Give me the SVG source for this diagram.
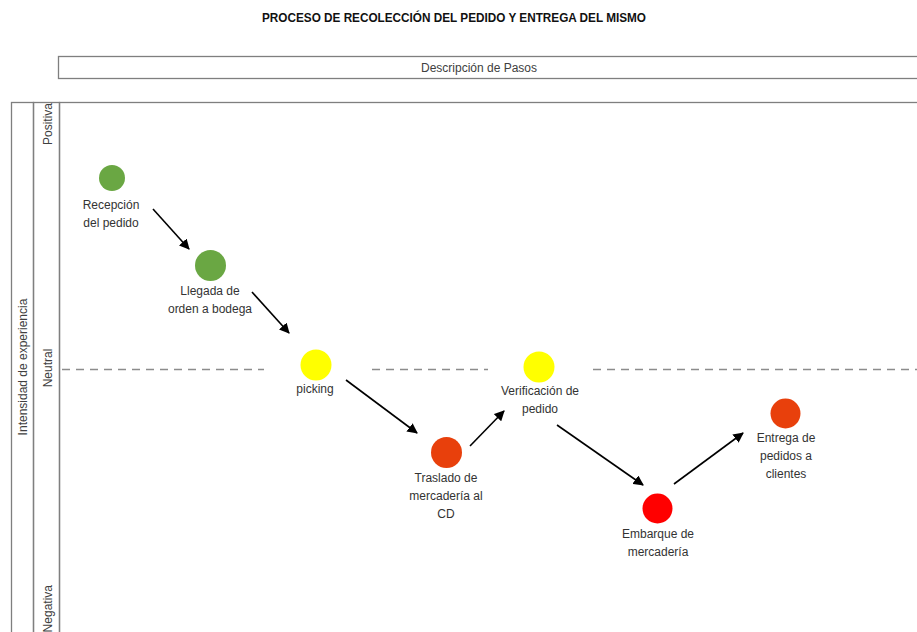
<svg xmlns="http://www.w3.org/2000/svg" width="917" height="632" viewBox="0 0 917 632">
  <style>
    .frame { fill: none; stroke: #7f7f7f; stroke-width: 1.3; }
    .lbl { font-family: "Liberation Sans", Arial, sans-serif; font-size: 12px; fill: #333333; text-anchor: middle; }
    .axis { font-family: "Liberation Sans", Arial, sans-serif; font-size: 12px; fill: #404040; text-anchor: middle; }
    .title { font-family: "Liberation Sans", Arial, sans-serif; font-size: 12.5px; font-weight: bold; fill: #111111; text-anchor: middle; }
    .conn { stroke: #000000; stroke-width: 1.6; fill: none; marker-end: url(#arr); }
    .neutral { stroke: #8c8c8c; stroke-width: 1.4; stroke-dasharray: 8 6; fill: none; }
    .green { fill: #6aa743; }
    .yellow { fill: #ffff00; }
    .orange { fill: #e8400c; }
    .red { fill: #ff0000; }
  </style>
  <defs>
    <marker id="arr" viewBox="0 0 10 10" refX="9" refY="5" markerWidth="6.5" markerHeight="6.5" orient="auto" markerUnits="strokeWidth">
      <path d="M0,0 L10,5 L0,10 z" fill="#000000"/>
    </marker>
  </defs>
  <rect width="917" height="632" fill="#ffffff"/>

  <g id="title">
    <text class="title" x="454" y="21.5" textLength="384" lengthAdjust="spacingAndGlyphs">PROCESO DE RECOLECCIÓN DEL PEDIDO Y ENTREGA DEL MISMO</text>
  </g>

  <g id="header">
    <rect class="frame" x="58.5" y="56.5" width="880" height="22"/>
    <text class="axis" x="479" y="72">Descripción de Pasos</text>
  </g>

  <g id="axis">
    <rect class="frame" x="11.5" y="102.5" width="22" height="540"/>
    <rect class="frame" x="33.5" y="102.5" width="26" height="540"/>
    <rect class="frame" x="59.5" y="102.5" width="880" height="540"/>
    <text class="axis" transform="translate(26.5,367) rotate(-90)">Intensidad de experiencia</text>
    <text class="axis" transform="translate(51.5,124) rotate(-90)">Positiva</text>
    <text class="axis" transform="translate(51.5,368) rotate(-90)">Neutral</text>
    <text class="axis" style="text-anchor:end" transform="translate(51.5,585) rotate(-90)">Negativa</text>
  </g>

  <g id="neutral-line">
    <line class="neutral" x1="62" y1="369.5" x2="264" y2="369.5"/>
    <line class="neutral" x1="372" y1="369.5" x2="488" y2="369.5"/>
    <line class="neutral" x1="593" y1="369.5" x2="917" y2="369.5"/>
  </g>

  <g id="connectors">
    <line class="conn" x1="153" y1="209" x2="189" y2="249"/>
    <line class="conn" x1="252" y1="292" x2="289" y2="333"/>
    <line class="conn" x1="346" y1="380" x2="417" y2="433"/>
    <line class="conn" x1="470" y1="446" x2="504" y2="411"/>
    <line class="conn" x1="557" y1="425" x2="643" y2="485"/>
    <line class="conn" x1="674" y1="484" x2="743" y2="433"/>
  </g>

  <g id="recepcion">
    <circle class="green" cx="112" cy="178" r="13"/>
    <text class="lbl" x="111" y="209">Recepción</text>
    <text class="lbl" x="111" y="227">del pedido</text>
  </g>

  <g id="llegada">
    <circle class="green" cx="210.5" cy="265.5" r="15.5"/>
    <text class="lbl" x="210" y="295">Llegada de</text>
    <text class="lbl" x="210" y="313">orden a bodega</text>
  </g>

  <g id="picking">
    <circle class="yellow" cx="316" cy="365" r="15.5"/>
    <text class="lbl" x="315" y="393">picking</text>
  </g>

  <g id="traslado">
    <circle class="orange" cx="446.5" cy="452.5" r="15.5"/>
    <text class="lbl" x="446" y="482">Traslado de</text>
    <text class="lbl" x="446" y="500">mercadería al</text>
    <text class="lbl" x="446" y="518">CD</text>
  </g>

  <g id="verificacion">
    <circle class="yellow" cx="539" cy="367" r="15.5"/>
    <text class="lbl" x="540" y="395">Verificación de</text>
    <text class="lbl" x="540" y="413">pedido</text>
  </g>

  <g id="embarque">
    <circle class="red" cx="657.5" cy="508.5" r="15"/>
    <text class="lbl" x="658" y="538">Embarque de</text>
    <text class="lbl" x="658" y="556">mercadería</text>
  </g>

  <g id="entrega">
    <circle class="orange" cx="785.5" cy="413.5" r="15"/>
    <text class="lbl" x="786" y="442">Entrega de</text>
    <text class="lbl" x="786" y="460">pedidos a</text>
    <text class="lbl" x="786" y="478">clientes</text>
  </g>
</svg>
